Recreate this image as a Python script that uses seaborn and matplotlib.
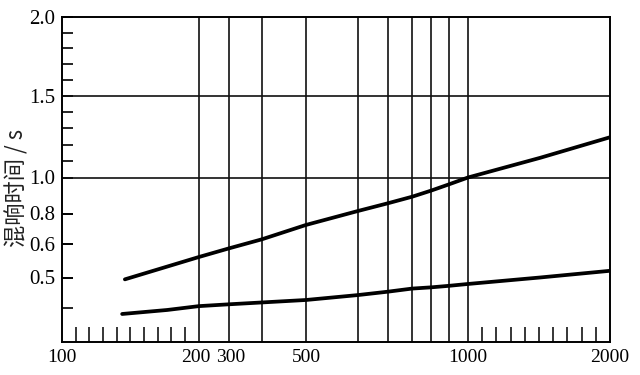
'''
Reverberation time vs room volume (hand-drawn style chart)
'''

import numpy as np
import pandas as pd
import matplotlib
matplotlib.use('Agg')
import matplotlib.pyplot as plt
from matplotlib.transforms import ScaledTranslation
import seaborn as sns

# Curve data (volume, reverberation time)
upper_volume = [146, 200, 300, 400, 500, 600, 700, 800, 900, 950, 1000, 1507, 2000]
upper_time = [0.494, 0.561, 0.587, 0.631, 0.725, 0.814, 0.857, 0.893, 0.927, 0.962, 1.0, 1.12, 1.246]

lower_volume = [144, 177, 200, 300, 400, 500, 600, 700, 800, 900, 950, 1000, 1507, 2000]
lower_time = [0.383, 0.395, 0.407, 0.413, 0.419, 0.427, 0.443, 0.454, 0.464, 0.468, 0.473, 0.479, 0.5, 0.52]

# Tick labels / grid
x_labels = [100, 200, 300, 500, 1000, 2000]
x_grid = [200, 300, 400, 500, 600, 700, 800, 900, 950, 1000]
x_minor = [110, 120, 130, 140, 150, 160, 170, 180, 190,
           1100, 1200, 1300, 1400, 1500, 1600, 1700, 1800, 1900]
y_labels = [0.5, 0.6, 0.8, 1.0, 1.5, 2.0]
y_grid = [1.0, 1.5]
y_minor = [0.4, 1.1, 1.2, 1.3, 1.4, 1.6, 1.7, 1.8, 1.9]

# The drawn axes are not a regular scale, so use piecewise breakpoints
x_break_vals = [100, 200, 300, 400, 500, 600, 700, 800, 900, 950, 1000, 2000]
x_break_frac = [(p - 62) / 548 for p in
                [62, 198.7, 229, 262, 306, 358, 388, 412, 431, 449, 468, 610]]
y_break_vals = [0.3, 0.4, 0.5, 0.6, 0.8, 1.0, 1.5, 2.0]
y_break_frac = [(341.7 - p) / 324.7 for p in
                [341.7, 308.3, 277.5, 244, 213.5, 177.5, 95.7, 17]]


def x_fwd(v):
    return np.interp(v, x_break_vals, x_break_frac)


def x_inv(f):
    return np.interp(f, x_break_frac, x_break_vals)


def y_fwd(v):
    return np.interp(v, y_break_vals, y_break_frac)


def y_inv(f):
    return np.interp(f, y_break_frac, y_break_vals)


df = pd.concat([
    pd.DataFrame({'volume': upper_volume, 'time': upper_time, 'curve': 'upper'}),
    pd.DataFrame({'volume': lower_volume, 'time': lower_time, 'curve': 'lower'}),
])

sns.set_theme(style='white')
plt.rcParams['font.family'] = ['Liberation Serif', 'DejaVu Serif']

fig = plt.figure(figsize=(6.4, 3.75), dpi=100)
ax = fig.add_axes([62 / 640, 1 - 341.7 / 375, 548 / 640, 324.7 / 375])

ax.set_xscale('function', functions=(x_fwd, x_inv))
ax.set_yscale('function', functions=(y_fwd, y_inv))

# Grid lines
for v in x_grid:
    ax.axvline(v, color='#111111', linewidth=1.2, zorder=1)
for v in y_grid:
    ax.axhline(v, color='#111111', linewidth=1.2, zorder=1)

sns.lineplot(data=df, x='volume', y='time', units='curve', estimator=None,
             color='black', linewidth=2.7, legend=False, ax=ax, zorder=3)

ax.set_xlim(100, 2000)
ax.set_ylim(0.3, 2.0)

ax.set_xticks(x_labels)
ax.set_xticklabels([str(v) for v in x_labels])
ax.set_xticks(x_minor, minor=True)
ax.set_yticks(y_labels)
ax.set_yticklabels([f'{v:.1f}' for v in y_labels])
ax.set_yticks(y_minor, minor=True)

ax.tick_params(axis='x', which='major', length=0, pad=5, labelsize=14,
               labelcolor='black')
ax.tick_params(axis='x', which='minor', direction='in', length=11,
               width=1.1, color='black', bottom=True)
ax.tick_params(axis='y', which='major', direction='in', length=8, width=1.4,
               color='black', left=True, pad=5, labelsize=15,
               labelcolor='black')
ax.tick_params(axis='y', which='minor', direction='in', length=8, width=1.2,
               color='black', left=True)

# Little room between "200" and "300"
xt = ax.get_xticklabels()
xt[1].set_transform(xt[1].get_transform() + ScaledTranslation(-3 / 100, 0, fig.dpi_scale_trans))
xt[2].set_transform(xt[2].get_transform() + ScaledTranslation(2 / 100, 0, fig.dpi_scale_trans))

for s in ax.spines.values():
    s.set_color('black')
    s.set_linewidth(1.4)

ax.set_xlabel('')
ax.set_ylabel('混响时间 / s', fontsize=16, color='#222222',
              family=['Noto Sans CJK SC', 'DejaVu Sans'])
ax.yaxis.label.set_va('center')
ax.yaxis.set_label_coords(-0.082, 0.473)

fig.savefig('out.png', dpi=100)
